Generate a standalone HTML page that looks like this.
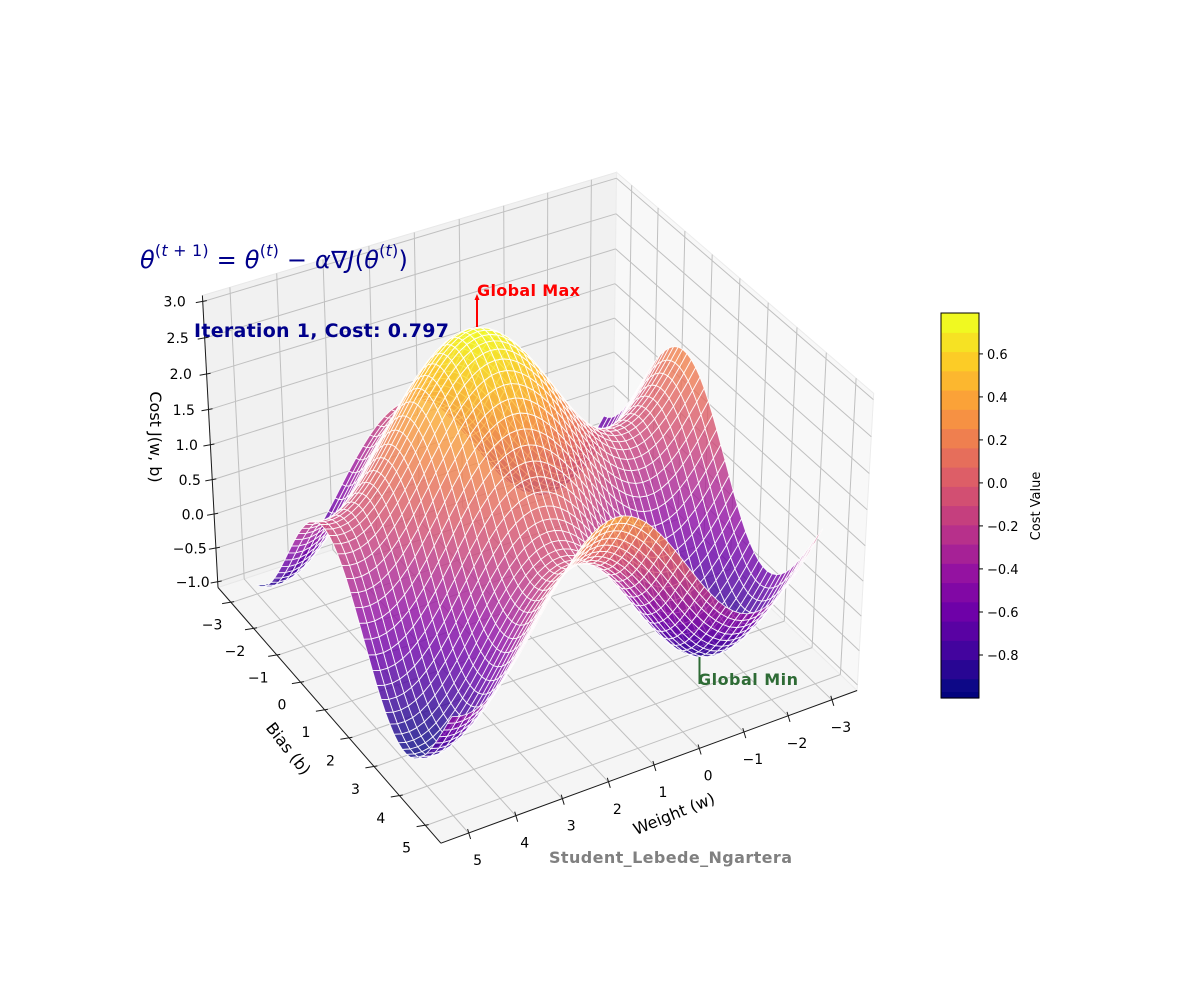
<!DOCTYPE html>
<html><head><meta charset="utf-8"><title>Cost surface</title>
<style>
html,body{margin:0;padding:0;background:#fff;}
#wrap{position:relative;width:1200px;height:1000px;overflow:hidden;font-family:"DejaVu Sans","Liberation Sans",sans-serif;}
svg{position:absolute;left:0;top:0;}
#formula{position:absolute;left:140px;top:244px;font-size:24px;color:#00008b;white-space:nowrap;letter-spacing:0.2px;font-family:"DejaVu Sans","Liberation Sans",sans-serif;}
#formula i{font-style:italic;}
#formula sup{font-size:16px;position:relative;top:-3px;}
</style></head>
<body>
<div id="wrap">
<svg id="chart" width="1200" height="1000" viewBox="0 0 1200 1000">
  <g id="panes"></g>
  <g id="grid"></g>
  <g id="axes"></g>
  <g id="surface"></g>
  <g id="labels"></g>
  <g id="annot">
    <line x1="477" y1="327" x2="477" y2="298" stroke="#ff0000" stroke-width="2"/>
    <path d="M474.5,300 L477,294 L479.5,300 Z" fill="#ff0000"/>
    <text x="477" y="296" font-size="16" font-weight="bold" fill="#ff0000" textLength="103">Global Max</text>
    <line x1="699.5" y1="657" x2="699.5" y2="684" stroke="#2e6b35" stroke-width="2"/>
    <text x="698" y="685" font-size="16" font-weight="bold" fill="#2e6b35" textLength="100">Global Min</text>
    <text x="194" y="337" font-size="19" font-weight="bold" fill="#00008b" textLength="255">Iteration 1, Cost: 0.797</text>
    <text x="549" y="863" font-size="16" font-weight="bold" fill="#808080" textLength="243">Student_Lebede_Ngartera</text>
    <text transform="translate(150,437) rotate(90)" text-anchor="middle" font-size="16" fill="#000">Cost J(w, b)</text>
    <text transform="translate(284,752) rotate(52)" text-anchor="middle" font-size="16" fill="#000">Bias (b)</text>
    <text transform="translate(676,819) rotate(-22)" text-anchor="middle" font-size="16" fill="#000">Weight (w)</text>
  </g>
  <g id="colorbar"></g>
  <text transform="translate(1040,506) rotate(-90)" text-anchor="middle" font-size="13" fill="#000">Cost Value</text>
</svg>
<div id="formula"><i>θ</i><sup>(<i>t</i> + 1)</sup> = <i>θ</i><sup>(<i>t</i>)</sup> − <i>α</i>∇<i>J</i>(<i>θ</i><sup>(<i>t</i>)</sup>)</div>
</div>
<script>
// ---- data ----
const wTicks = [-3, -2, -1, 0, 1, 2, 3, 4, 5];
const bTicks = [-3, -2, -1, 0, 1, 2, 3, 4, 5];
const zTicks = [-1.0, -0.5, 0.0, 0.5, 1.0, 1.5, 2.0, 2.5, 3.0];
const cbTicks = [-0.8, -0.6, -0.4, -0.2, 0.0, 0.2, 0.4, 0.6];
const cbRange = [-1.0, 0.79];
const wDomain = [-3, 5];
const bDomain = [-3, 5];
const gridCount = 50;
// cost surface model J(w,b) = sin(w) + cos(b) + 1
function cost(w, b) { return Math.sin(w) + Math.cos(b) + 1; }

// ---- projection (elev 35, azim 60) ----
const wLim = [-3.583, 5.583], bLim = [-3.583, 5.583], zLim = [-1.0833, 3.0833];
const elev = 35 * Math.PI / 180, azim = 60 * Math.PI / 180, dist = 10;
const asp = [4, 4, 3]; const nrm = Math.hypot(4, 4, 3);
const box = asp.map(a => a * 1.8294640721620434 / nrm);
const vw = [Math.cos(elev) * Math.cos(azim), Math.cos(elev) * Math.sin(azim), Math.sin(elev)];
const vu = [-Math.sin(azim), Math.cos(azim), 0];
const vv = [vw[1] * vu[2] - vw[2] * vu[1], vw[2] * vu[0] - vw[0] * vu[2], vw[0] * vu[1] - vw[1] * vu[0]];
const SC = 4193, CX = 532.2, CY = 494.5;
function P(w, b, z) {
  const p = [(w - wLim[0]) / (wLim[1] - wLim[0]) * box[0] - box[0] / 2,
             (b - bLim[0]) / (bLim[1] - bLim[0]) * box[1] - box[1] / 2,
             (z - zLim[0]) / (zLim[1] - zLim[0]) * box[2] - box[2] / 2];
  const pu = p[0] * vu[0] + p[1] * vu[1] + p[2] * vu[2];
  const pv = p[0] * vv[0] + p[1] * vv[1] + p[2] * vv[2];
  const pw = p[0] * vw[0] + p[1] * vw[1] + p[2] * vw[2];
  const d = dist - pw;
  return { x: CX + SC * pu / d, y: CY - SC * pv / d, d: d };
}
const NS = 'http://www.w3.org/2000/svg';
function mk(tag, attrs, parent) { const e = document.createElementNS(NS, tag); for (const k in attrs) e.setAttribute(k, attrs[k]); parent.appendChild(e); return e; }
function pts(arr) { return arr.map(q => q.x.toFixed(1) + ',' + q.y.toFixed(1)).join(' '); }

const plasma = ['#0d0887', '#41049d', '#6a00a8', '#8f0da4', '#b12a90', '#cc4778', '#e16462', '#f2844b', '#fca636', '#fcce25', '#f0f921'];
function hex(h) { return [parseInt(h.substr(1, 2), 16), parseInt(h.substr(3, 2), 16), parseInt(h.substr(5, 2), 16)]; }
function cmap(t) {
  t = Math.max(0, Math.min(1, t)); const s = t * 10; const i = Math.min(9, Math.floor(s)); const f = s - i;
  const a = hex(plasma[i]), c = hex(plasma[i + 1]);
  return 'rgb(' + a.map((v, k) => Math.round(v + (c[k] - v) * f)).join(',') + ')';
}

// ---- panes ----
const gP = document.getElementById('panes');
const floor = mk('polygon', { points: pts([P(wLim[0], bLim[0], zLim[0]), P(wLim[1], bLim[0], zLim[0]), P(wLim[1], bLim[1], zLim[0]), P(wLim[0], bLim[1], zLim[0])]), fill: '#f5f5f5', stroke: '#ececec' }, gP);


const paneB = mk('polygon', { points: pts([P(wLim[0], bLim[0], zLim[0]), P(wLim[1], bLim[0], zLim[0]), P(wLim[1], bLim[0], zLim[1]), P(wLim[0], bLim[0], zLim[1])]), fill: '#f1f1f1', stroke: '#e8e8e8' }, gP);


const paneW = mk('polygon', { points: pts([P(wLim[0], bLim[0], zLim[0]), P(wLim[0], bLim[1], zLim[0]), P(wLim[0], bLim[1], zLim[1]), P(wLim[0], bLim[0], zLim[1])]), fill: '#f8f8f8', stroke: '#ececec' }, gP);



// ---- grid ----
const gG = document.getElementById('grid');
function gl(a, c, name) {
  const l = mk('line', { x1: a.x.toFixed(1), y1: a.y.toFixed(1), x2: c.x.toFixed(1), y2: c.y.toFixed(1), stroke: '#c0c0c0', 'stroke-width': 1 }, gG);
  
  
}
wTicks.forEach(t => { gl(P(t, bLim[0], zLim[0]), P(t, bLim[1], zLim[0]), 'floor-gridline-w'); gl(P(t, bLim[0], zLim[0]), P(t, bLim[0], zLim[1]), 'wall-gridline-w'); });
bTicks.forEach(t => { gl(P(wLim[0], t, zLim[0]), P(wLim[1], t, zLim[0]), 'floor-gridline-b'); gl(P(wLim[0], t, zLim[0]), P(wLim[0], t, zLim[1]), 'wall-gridline-b'); });
zTicks.forEach(t => { gl(P(wLim[0], bLim[0], t), P(wLim[1], bLim[0], t), 'wall-gridline-z'); gl(P(wLim[0], bLim[0], t), P(wLim[0], bLim[1], t), 'wall-gridline-z'); });

// ---- axis lines, ticks, labels ----
const gA = document.getElementById('axes'), gL = document.getElementById('labels');
function al(a, c, name, w) {
  const l = mk('line', { x1: a.x.toFixed(1), y1: a.y.toFixed(1), x2: c.x.toFixed(1), y2: c.y.toFixed(1), stroke: '#1a1a1a', 'stroke-width': w || 1 }, gA);
  
  
}
al(P(wLim[1], bLim[0], zLim[0]), P(wLim[1], bLim[0], zLim[1]), 'z-axis-line');
al(P(wLim[1], bLim[0], zLim[0]), P(wLim[1], bLim[1], zLim[0]), 'b-axis-line');
al(P(wLim[0], bLim[1], zLim[0]), P(wLim[1], bLim[1], zLim[0]), 'w-axis-line');
function fmt(v, d) { return (v < 0 ? '\u2212' : '') + Math.abs(v).toFixed(d); }
zTicks.forEach(t => {
  const q = P(wLim[1], bLim[0], t);
  al({ x: q.x - 7, y: q.y + 1 }, { x: q.x + 4, y: q.y - 1 }, 'z-tick');
  const off = 8 + 9 * (t + 1) / 4;
  const tx = mk('text', { x: (q.x - off).toFixed(1), y: (q.y + 5).toFixed(1), 'text-anchor': 'end', 'font-size': 14, fill: '#000' }, gL);
  tx.textContent = fmt(t, 1);
  
  
});
bTicks.forEach(t => {
  const q = P(wLim[1], t, zLim[0]);
  al({ x: q.x - 9, y: q.y + 1 }, { x: q.x + 3, y: q.y - 1 }, 'b-tick');
  const tx = mk('text', { x: (q.x - 19).toFixed(1), y: (q.y + 27).toFixed(1), 'text-anchor': 'middle', 'font-size': 14, fill: '#000' }, gL);
  tx.textContent = fmt(t, 0);
  
  
});
wTicks.forEach(t => {
  const q = P(t, bLim[1], zLim[0]);
  al({ x: q.x - 1, y: q.y - 4 }, { x: q.x + 2, y: q.y + 6 }, 'w-tick');
  const tx = mk('text', { x: (q.x + 9).toFixed(1), y: (q.y + 32).toFixed(1), 'text-anchor': 'middle', 'font-size': 14, fill: '#000' }, gL);
  tx.textContent = fmt(t, 0);
  
  
});

// ---- surface ----
const gS = document.getElementById('surface');
const wv = [], bv = [];
for (let i = 0; i < gridCount; i++) { wv.push(wDomain[0] + (wDomain[1] - wDomain[0]) * i / (gridCount - 1)); bv.push(bDomain[0] + (bDomain[1] - bDomain[0]) * i / (gridCount - 1)); }
const Z = wv.map(w => bv.map(b => cost(w, b)));
const faces = []; let zmin = Infinity, zmax = -Infinity;
for (let i = 0; i < gridCount - 1; i++) for (let j = 0; j < gridCount - 1; j++) {
  const c = [[i, j], [i + 1, j], [i + 1, j + 1], [i, j + 1]];
  const pp = c.map(([a, k]) => P(wv[a], bv[k], Z[a][k]));
  const avg = c.reduce((s, [a, k]) => s + Z[a][k], 0) / 4;
  zmin = Math.min(zmin, avg); zmax = Math.max(zmax, avg);
  faces.push({ pp, avg, d: pp.reduce((s, q) => s + q.d, 0) / 4 });
}
faces.sort((a, b) => b.d - a.d);
faces.forEach(f => {
  const el = mk('polygon', { points: pts(f.pp), fill: cmap((f.avg - zmin) / (zmax - zmin)), 'fill-opacity': 0.8, stroke: '#ffffff', 'stroke-opacity': 0.9, 'stroke-width': 0.9, 'stroke-linejoin': 'round' }, gS);
  
  
});

// ---- colorbar ----
const gC = document.getElementById('colorbar');
const cbX = 941, cbW = 38, cbTop = 313, cbBot = 698, nBands = 20;
function cbY(v) { return cbBot - (v - cbRange[0]) / (cbRange[1] - cbRange[0]) * (cbBot - cbTop); }
for (let i = 0; i < nBands; i++) {
  const y0 = cbBot - (i + 1) * (cbBot - cbTop) / nBands, h = (cbBot - cbTop) / nBands;
  const r = mk('rect', { x: cbX, y: y0.toFixed(2), width: cbW, height: (h + 0.6).toFixed(2), fill: cmap(i / (nBands - 1)) }, gC);
  
  
}
const navy = mk('rect', { x: cbX, y: cbBot - 6, width: cbW, height: 6, fill: '#03037e' }, gC);


const fr = mk('rect', { x: cbX, y: cbTop, width: cbW, height: cbBot - cbTop, fill: 'none', stroke: '#000', 'stroke-width': 1 }, gC);


cbTicks.forEach(t => {
  const y = cbY(t);
  const l = mk('line', { x1: cbX + cbW, y1: y.toFixed(1), x2: cbX + cbW + 4, y2: y.toFixed(1), stroke: '#000', 'stroke-width': 1 }, gC);
  
  
  const tx = mk('text', { x: cbX + cbW + 8, y: (y + 5).toFixed(1), 'font-size': 13, fill: '#000' }, gC);
  tx.textContent = fmt(t, 1);
  
  
});
</script>
</body></html>
